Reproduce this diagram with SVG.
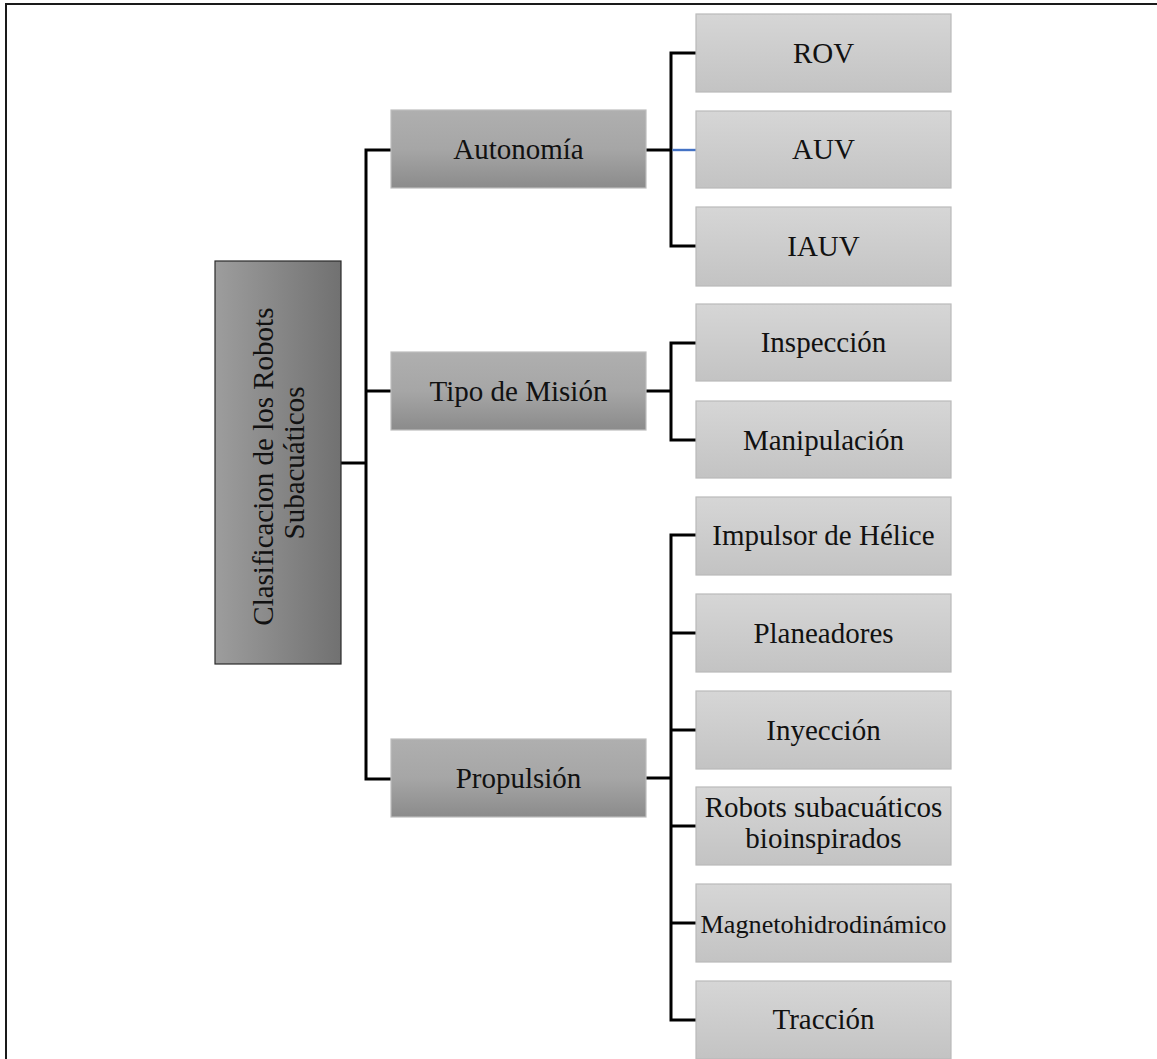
<svg xmlns="http://www.w3.org/2000/svg" width="1157" height="1059" viewBox="0 0 1157 1059">
  <defs>
    <linearGradient id="gRoot" x1="0" y1="0" x2="1" y2="0">
      <stop offset="0" stop-color="#9d9d9d"/>
      <stop offset="1" stop-color="#717171"/>
    </linearGradient>
    <linearGradient id="gMid" x1="0" y1="0" x2="0" y2="1">
      <stop offset="0" stop-color="#afafaf"/>
      <stop offset="0.5" stop-color="#a6a6a6"/>
      <stop offset="1" stop-color="#8b8b8b"/>
    </linearGradient>
    <linearGradient id="gLeaf" x1="0" y1="0" x2="0" y2="1">
      <stop offset="0" stop-color="#d6d6d6"/>
      <stop offset="1" stop-color="#c3c3c3"/>
    </linearGradient>
  </defs>
  <style>
    .frame { fill: none; stroke: #1a1a1a; stroke-width: 2; }
    .root { fill: url(#gRoot); stroke: #2a2a2a; stroke-width: 1.2; }
    .mid { fill: url(#gMid); stroke: #bdbdbd; stroke-width: 1.2; }
    .leaf { fill: url(#gLeaf); stroke: #bababa; stroke-width: 1.2; }
    .lbl { font-family: "Liberation Serif", "Times New Roman", serif; font-size: 29px; fill: #111; text-anchor: middle; }
    .link { fill: none; stroke: #000; stroke-width: 3; stroke-linejoin: miter; }
    .link-blue { fill: none; stroke: #4472c4; stroke-width: 2.4; }
  </style>

  <rect width="1157" height="1059" fill="#ffffff"/>
  <!-- page frame: top and left edges -->
  <path class="frame" d="M6,1059 V4 H1157"/>

  <!-- connectors -->
  <g id="connectors">
    <!-- root to first level -->
    <path class="link" d="M341,463 H366"/>
    <path class="link" d="M391,150 H366 V779 H391"/>
    <path class="link" d="M366,391 H391"/>
    <!-- Autonomía -->
    <path class="link" d="M646,150 H671"/>
    <path class="link" d="M696,53 H671 V246 H696"/>
    <path class="link-blue" d="M672.5,150 H696"/>
    <!-- Tipo de Misión -->
    <path class="link" d="M646,391 H671"/>
    <path class="link" d="M696,343 H671 V440 H696"/>
    <!-- Propulsión -->
    <path class="link" d="M646,778 H671"/>
    <path class="link" d="M696,535 H671 V1020 H696"/>
    <path class="link" d="M671,633 H696"/>
    <path class="link" d="M671,730 H696"/>
    <path class="link" d="M671,826 H696"/>
    <path class="link" d="M671,923 H696"/>
  </g>

  <!-- root -->
  <g id="root">
    <rect class="root" x="215" y="261" width="126" height="403"/>
    <text class="lbl" transform="translate(278,463) rotate(-90)">
      <tspan x="0" y="-5">Clasificacion de los Robots</tspan>
      <tspan x="0" y="26">Subacuáticos</tspan>
    </text>
  </g>

  <!-- first level -->
  <g id="autonomia">
    <rect class="mid" x="391" y="110" width="255" height="78"/>
    <text class="lbl" x="518.5" y="159">Autonomía</text>
  </g>
  <g id="tipo-mision">
    <rect class="mid" x="391" y="352" width="255" height="78"/>
    <text class="lbl" x="518.5" y="401">Tipo de Misión</text>
  </g>
  <g id="propulsion">
    <rect class="mid" x="391" y="739" width="255" height="78"/>
    <text class="lbl" x="518.5" y="788">Propulsión</text>
  </g>

  <!-- second level: Autonomía -->
  <g id="rov">
    <rect class="leaf" x="696" y="14" width="255" height="78"/>
    <text class="lbl" x="823.5" y="63">ROV</text>
  </g>
  <g id="auv">
    <rect class="leaf" x="696" y="111" width="255" height="77"/>
    <text class="lbl" x="823.5" y="159">AUV</text>
  </g>
  <g id="iauv">
    <rect class="leaf" x="696" y="207" width="255" height="79"/>
    <text class="lbl" x="823.5" y="256">IAUV</text>
  </g>

  <!-- second level: Tipo de Misión -->
  <g id="inspeccion">
    <rect class="leaf" x="696" y="304" width="255" height="77"/>
    <text class="lbl" x="823.5" y="352">Inspección</text>
  </g>
  <g id="manipulacion">
    <rect class="leaf" x="696" y="401" width="255" height="77"/>
    <text class="lbl" x="823.5" y="450">Manipulación</text>
  </g>

  <!-- second level: Propulsión -->
  <g id="impulsor">
    <rect class="leaf" x="696" y="497" width="255" height="78"/>
    <text class="lbl" x="823.5" y="545">Impulsor de Hélice</text>
  </g>
  <g id="planeadores">
    <rect class="leaf" x="696" y="594" width="255" height="78"/>
    <text class="lbl" x="823.5" y="643">Planeadores</text>
  </g>
  <g id="inyeccion">
    <rect class="leaf" x="696" y="691" width="255" height="78"/>
    <text class="lbl" x="823.5" y="740">Inyección</text>
  </g>
  <g id="bioinspirados">
    <rect class="leaf" x="696" y="787" width="255" height="78"/>
    <text class="lbl" x="823.5" y="817">Robots subacuáticos</text>
    <text class="lbl" x="823.5" y="848">bioinspirados</text>
  </g>
  <g id="magneto">
    <rect class="leaf" x="696" y="884" width="255" height="78"/>
    <text class="lbl" x="823.5" y="933" style="font-size:26.2px">Magnetohidrodinámico</text>
  </g>
  <g id="traccion">
    <rect class="leaf" x="696" y="981" width="255" height="78"/>
    <text class="lbl" x="823.5" y="1029">Tracción</text>
  </g>
</svg>
